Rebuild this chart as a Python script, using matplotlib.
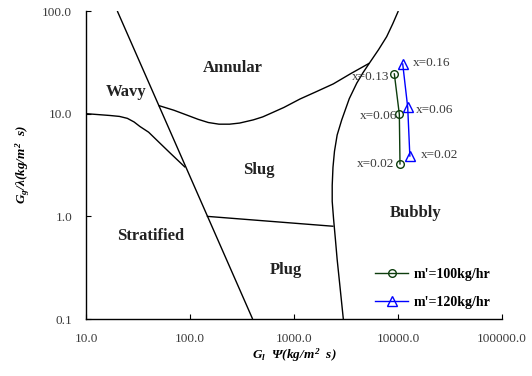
import matplotlib
matplotlib.use("Agg")
import matplotlib.pyplot as plt

plt.rcParams['font.family'] = ['Liberation Serif', 'DejaVu Serif']
plt.rcParams['mathtext.fontset'] = 'custom'
plt.rcParams['mathtext.rm'] = 'Liberation Serif:bold:italic'
plt.rcParams['mathtext.it'] = 'Liberation Serif:bold:italic'
plt.rcParams['mathtext.bf'] = 'Liberation Serif:bold:italic'

# Flow regime boundaries (Baker map)
steep_x = [20, 400]
steep_y = [100, 0.1]

wavy_strat_x = [10, 13, 17, 21, 25, 29, 33, 40, 50, 65, 90]
wavy_strat_y = [10, 9.8, 9.6, 9.4, 9.0, 8.3, 7.5, 6.6, 5.3, 4.1, 3.0]

annular_x = [50, 70, 93, 120, 150, 190, 240, 300, 406, 500, 588, 800,
             1143, 1600, 2388, 3500, 5300]
annular_y = [12, 10.8, 9.7, 8.8, 8.2, 7.9, 7.9, 8.1, 8.7, 9.3, 10.0, 11.5,
             13.9, 16.2, 19.5, 24.5, 31.0]

bubbly_x = [10070, 8900, 7780, 6500, 5300, 4600, 4010, 3400, 2876, 2600,
            2450, 2370, 2330, 2330, 2400, 2500, 2600, 2750, 2980]
bubbly_y = [100, 75, 56.2, 42, 31.0, 25, 19.8, 14, 8.69, 6.2,
            4.3, 3.0, 2.0, 1.4, 0.95, 0.6, 0.38, 0.22, 0.1]

slug_plug_x = [145, 2400]
slug_plug_y = [1.0, 0.8]

# Measured operating points
q100_x = [9220, 10300, 10450]
q100_y = [24.4, 9.87, 3.24]
q100_labels = ["x=0.13", "x=0.06", "x=0.02"]

q120_x = [11100, 12400, 13000]
q120_y = [30.5, 11.5, 3.87]
q120_labels = ["x=0.16", "x=0.06", "x=0.02"]

regions = ["Annular", "Wavy", "Slug", "Stratified", "Plug", "Bubbly"]
region_x = [259, 24.2, 460, 42.2, 837, 14900]
region_y = [27.9, 16.3, 2.83, 0.644, 0.30, 1.08]

xticks = [10, 100, 1000, 10000, 100000]
xtick_labels = ["10.0", "100.0", "1000.0", "10000.0", "100000.0"]
yticks = [0.1, 1, 10, 100]
ytick_labels = ["0.1", "1.0", "10.0", "100.0"]

fig = plt.figure(figsize=(5.32, 3.76), dpi=100)
ax = fig.add_axes([86 / 532, 1 - 319 / 376, 416 / 532, 308 / 376])
ax.set_xscale('log')
ax.set_yscale('log')
ax.set_xlim(10, 100000)
ax.set_ylim(0.1, 100)

for bx, by in [(steep_x, steep_y), (wavy_strat_x, wavy_strat_y),
               (annular_x, annular_y), (bubbly_x, bubbly_y),
               (slug_plug_x, slug_plug_y)]:
    ax.plot(bx, by, color='black', lw=1.0, solid_joinstyle='round',
            solid_capstyle='butt')

green = '#0d3d0d'
blue = '#0000ff'
ax.plot(q100_x, q100_y, color=green, lw=1.0, marker='o', ms=5.5,
        mfc='none', mec=green, mew=1.0, label="m'=100kg/hr")
ax.plot(q120_x, q120_y, color=blue, lw=1.0, marker='^', ms=7.5,
        mfc='none', mec=blue, mew=1.0, label="m'=120kg/hr")

txt_color = '#3a3a3a'
green_offsets = [(-3.5, -2.2), (-1.8, -1.0), (-4.3, -0.2)]
for x, y, s, off in zip(q100_x, q100_y, q100_labels, green_offsets):
    ax.annotate(s, (x, y), xytext=off, textcoords='offset points',
                ha='right', va='center', fontsize=9.5, color=txt_color)
blue_offsets = [(7.6, 1.0), (6.0, -1.7), (7.7, 0.5)]
for x, y, s, off in zip(q120_x, q120_y, q120_labels, blue_offsets):
    ax.annotate(s, (x, y), xytext=off, textcoords='offset points',
                ha='left', va='center', fontsize=9.5, color=txt_color)

for s, x, y in zip(regions, region_x, region_y):
    ax.text(x, y, s, ha='center', va='center', fontsize=12,
            fontweight='bold', color='#222222')

ax.set_xticks(xticks)
ax.set_xticklabels(xtick_labels)
ax.set_yticks(yticks)
ax.set_yticklabels(ytick_labels)
ax.minorticks_off()
ax.tick_params(axis='both', direction='in', length=3.5, width=0.8,
               pad=10, labelsize=9.5, labelcolor=txt_color)

for side in ['top', 'right']:
    ax.spines[side].set_visible(False)
for side in ['left', 'bottom']:
    ax.spines[side].set_linewidth(1.0)

ax.set_xlabel(r'$G_l\ \ \Psi(kg/m^2\ \ s)$', fontsize=9.5, labelpad=1)
ax.set_ylabel(r'$G_g/\lambda(kg/m^2\ \ s)$', fontsize=9.5, labelpad=7)

ax.legend(loc='center left', bbox_to_anchor=(0.695, 0.099), frameon=False,
          borderpad=0, borderaxespad=0, handlelength=2.4, handletextpad=0.4,
          labelspacing=1.05, prop={'weight': 'bold', 'size': 10})

fig.savefig('out.png', dpi=100)
